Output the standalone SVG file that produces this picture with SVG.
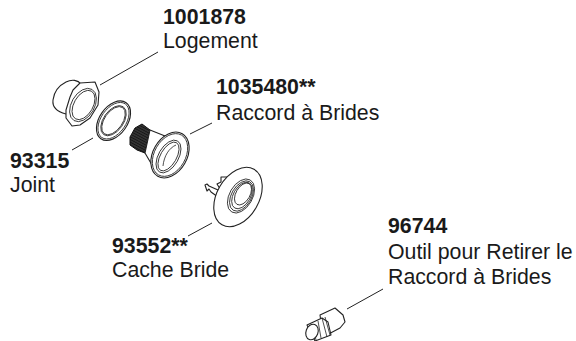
<svg xmlns="http://www.w3.org/2000/svg" width="576" height="341" viewBox="0 0 576 341">
<defs><style>
text{font-family:"Liberation Sans",Arial,sans-serif;font-size:21.300px;fill:#1a1a1a}
.b{font-weight:bold}
.l{stroke:#222;stroke-width:1;fill:none}
.p{stroke:#222;stroke-width:1.1;fill:#fff;stroke-linejoin:round}
.t{stroke:#222;stroke-width:.8;fill:none}
</style>
<pattern id="th" width="2.4" height="3" patternUnits="userSpaceOnUse" patternTransform="rotate(-62)"><rect width="3" height="3" fill="#333"/><rect width=".7" height="3" fill="#111"/></pattern>
</defs>
<rect width="576" height="341" fill="#fff"/>
<g id="connectors">
<path class="l" d="M100 85L158 52"/>
<path class="l" d="M93 138L72 150"/>
<path class="l" d="M190 134L212 123"/>
<path class="l" d="M212 223L188 236"/>
<path class="l" d="M347 309L383 289"/>
</g>
<g id="node-1001878">
<path class="p" d="M53 100C54 92 58 86 66 82C72 79 78 80 81 84L90 115L66 114C58 112 52 108 53 100Z"/>
<path class="p" d="M80 83L95 82L99 92L98 105L90 118L80 125L72 126L66 118L66 110L70 97L73 90Z"/>
<ellipse class="t" cx="83" cy="105" rx="11.500" ry="18" transform="rotate(30 83 105)"/>
<ellipse class="t" cx="83.500" cy="105" rx="9.500" ry="16" transform="rotate(30 83.500 105)"/>
<text class="b" x="163" y="24">1001878</text>
<text x="163" y="48">Logement</text>
</g>
<g id="node-93315">
<ellipse class="p" cx="113.500" cy="120.700" rx="14" ry="22" transform="rotate(35 113.500 120.700)"/>
<ellipse class="t" cx="113.500" cy="120.700" rx="12.500" ry="20.500" transform="rotate(35 113.500 120.700)"/>
<ellipse class="t" cx="113.500" cy="120.700" rx="10" ry="17" transform="rotate(35 113.500 120.700)"/>
<ellipse class="t" cx="113.500" cy="120.700" rx="9" ry="16" transform="rotate(35 113.500 120.700)"/>
<text class="b" x="10" y="167.500">93315</text>
<text x="10" y="192">Joint</text>
</g>
<g id="node-1035480">
<path d="M130 137L135 128L142 124L150 130L145 153L137 150L130 145Z" fill="url(#th)" stroke="#111"/>
<path class="p" d="M150 130L165 136L152 165L145 153Z"/>
<ellipse class="p" cx="170" cy="155" rx="17" ry="24.500" transform="rotate(30 170 155)"/>
<ellipse class="t" cx="170" cy="155" rx="15.500" ry="23" transform="rotate(30 170 155)"/>
<ellipse class="t" cx="168.500" cy="156.500" rx="10" ry="18" transform="rotate(30 168.500 156.500)"/>
<ellipse class="t" cx="168.500" cy="156.500" rx="8" ry="16" transform="rotate(30 168.500 156.500)"/>
<path class="t" d="M163 166C164 156 169 148 176 145"/>
<text class="b" x="216" y="94">1035480**</text>
<text x="216" y="119.500">Raccord à Brides</text>
</g>
<g id="node-93552">
<path class="p" d="M205 185L207 184L209 186L218 190L218 197L211 192L209 189L207 191Z"/>
<path class="p" d="M217 184L221 182L221 177L227 177L227 181L231 182L222 192Z"/>
<ellipse class="p" cx="238" cy="197" rx="21" ry="32" transform="rotate(30 238 197)"/>
<ellipse class="t" cx="241" cy="196" rx="11.500" ry="18.500" transform="rotate(30 241 196)"/>
<ellipse class="t" cx="241.500" cy="196" rx="10" ry="16.500" transform="rotate(30 241.500 196)"/>
<ellipse class="t" cx="242" cy="195.500" rx="8.500" ry="14.500" transform="rotate(30 242 195.500)"/>
<ellipse class="t" cx="243" cy="194" rx="7" ry="12" transform="rotate(30 243 194)"/>
<text class="b" x="112" y="252.500">93552**</text>
<text x="112" y="276.500">Cache Bride</text>
</g>
<g id="node-96744">
<path class="p" d="M320 315L335 308L343 315L345 322L340 328L323 337Z"/>
<path class="p" d="M307 325L322 318L328 322L331 335L315 341Z"/>
<path class="t" d="M325 317L330 335M322 318L327 337M318 321L321 338M312 324L316 340"/>
<ellipse class="p" cx="312" cy="332" rx="6" ry="8" transform="rotate(20 312 332)"/>
<text class="b" x="388" y="233">96744</text>
<text x="388" y="259">Outil pour Retirer le</text>
<text x="388" y="284">Raccord à Brides</text>
</g>
</svg>
